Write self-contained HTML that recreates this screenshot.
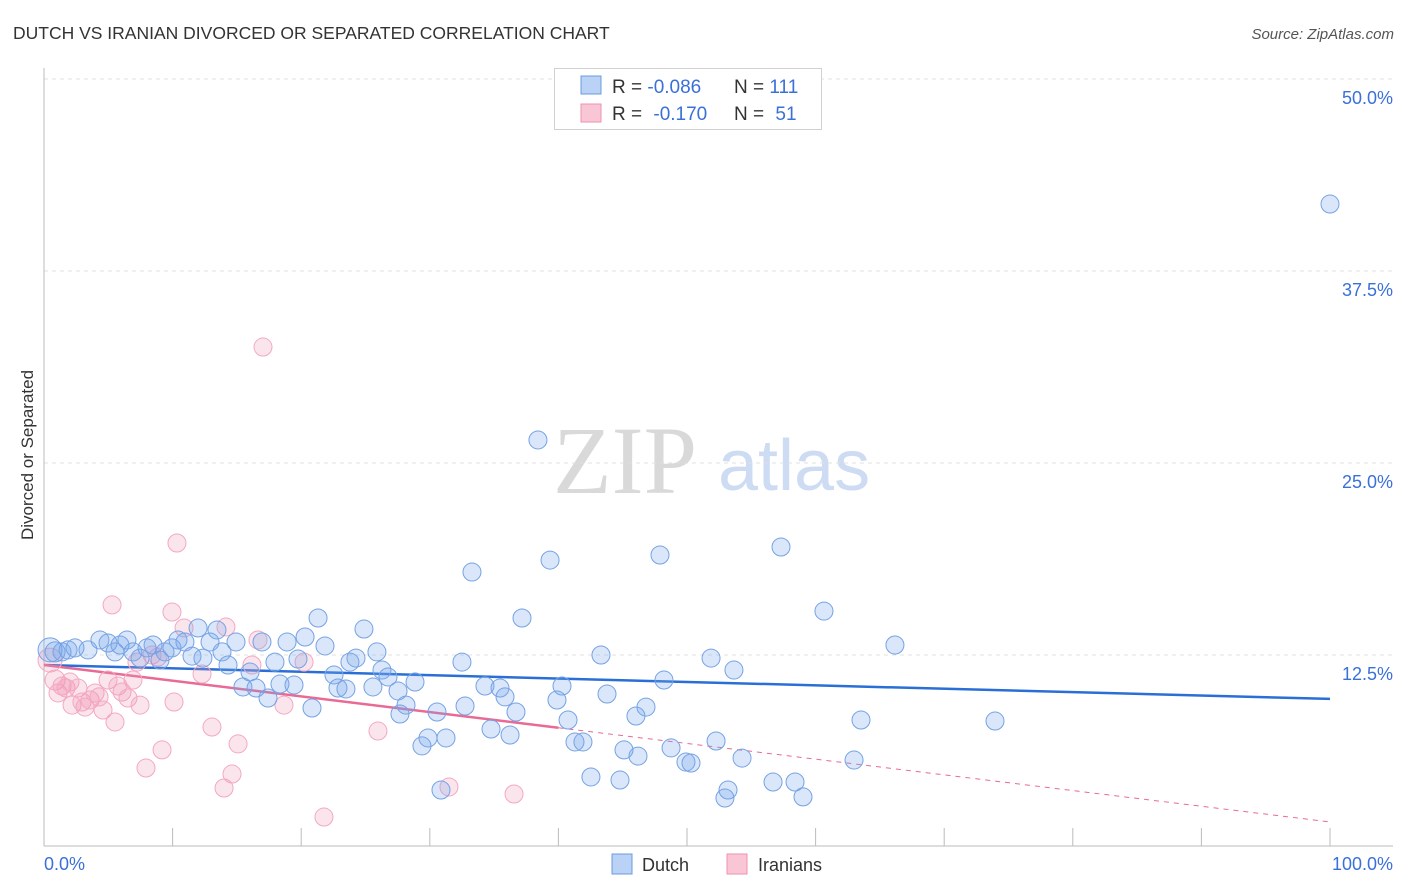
<!DOCTYPE html>
<html><head><meta charset="utf-8"><style>
body{margin:0;background:#fff;font-family:"Liberation Sans",sans-serif}
svg{display:block}
</style></head><body>
<svg id="chart" width="1406" height="892" viewBox="0 0 1406 892" xmlns="http://www.w3.org/2000/svg" font-family="Liberation Sans, sans-serif">
<text x="13" y="39" font-size="17.5" fill="#333">DUTCH VS IRANIAN DIVORCED OR SEPARATED CORRELATION CHART</text>
<text x="1394" y="39" font-size="15" fill="#555" font-style="italic" text-anchor="end">Source: ZipAtlas.com</text>
<g>
<text x="553" y="493" font-size="96" font-family="Liberation Serif, serif" fill="#d9d9d9">ZIP</text>
<text x="718" y="490" font-size="72" fill="#cddcf3">atlas</text>
</g>
<g id="grid"></g>
<g id="axes"></g>
<text transform="translate(33,455) rotate(-90)" font-size="17" fill="#333" text-anchor="middle">Divorced or Separated</text>
<g id="trends"></g>
<g id="pts"></g>
<g>
<rect x="554.5" y="68.5" width="267" height="61" fill="#fff" stroke="#d0d0d0"/>
<rect x="581" y="76" width="20" height="18" fill="#b9d2f5" stroke="#6a9be0"/>
<rect x="581" y="104" width="20" height="18" fill="#f9c6d6" stroke="#ee90b0"/>
<text x="612" y="93" font-size="19" fill="#333">R = <tspan fill="#3a70d8">-0.086</tspan></text>
<text x="734" y="93" font-size="19" fill="#333">N = <tspan fill="#3a70d8">111</tspan></text>
<text x="612" y="120" font-size="19" fill="#333">R = <tspan fill="#3a70d8" dx="6">-0.170</tspan></text>
<text x="734" y="120" font-size="19" fill="#333">N = <tspan fill="#3a70d8" dx="6">51</tspan></text>
</g>
<g>
<rect x="612" y="854" width="20" height="20" fill="#b9d2f5" stroke="#6a9be0"/>
<text x="642" y="871" font-size="18" fill="#333">Dutch</text>
<rect x="727" y="854" width="20" height="20" fill="#f9c6d6" stroke="#ee90b0"/>
<text x="758" y="871" font-size="18" fill="#333">Iranians</text>
</g>
</svg>
<script>
const dutchX=[0.47,0.86,1.40,1.87,2.41,3.42,4.35,4.98,5.52,5.91,6.45,6.92,7.47,8.01,8.48,9.02,9.41,9.95,10.42,10.96,11.51,11.98,12.36,12.91,13.45,13.84,14.31,14.93,15.47,16.02,16.49,16.95,17.42,17.96,18.35,18.90,19.44,19.75,20.30,20.84,21.31,21.85,22.55,22.86,23.48,23.79,24.26,24.88,25.58,25.89,26.28,26.75,27.53,27.68,28.15,28.85,29.39,29.86,30.56,30.87,31.26,32.50,32.74,33.28,34.29,34.76,35.46,35.85,36.24,36.70,37.17,38.41,39.35,39.89,40.28,40.75,41.29,41.91,42.53,43.31,43.78,44.79,45.10,46.03,46.19,46.81,47.90,48.21,48.76,49.92,50.31,51.87,52.26,52.95,53.19,53.65,54.28,56.69,57.31,58.40,59.02,60.65,62.99,63.53,66.17,73.95,100.0];
const dutchY=[12.83,12.70,12.70,12.83,12.96,12.83,13.48,13.28,12.70,13.15,13.48,12.70,12.30,12.96,13.15,12.17,12.70,12.96,13.48,13.35,12.43,14.26,12.30,13.35,14.13,12.70,11.85,13.35,10.42,11.39,10.35,13.35,9.70,12.04,10.61,13.35,10.55,12.24,13.67,9.05,14.91,13.09,11.20,10.35,10.29,12.04,12.30,14.19,10.42,12.70,11.52,11.07,10.16,8.66,9.24,10.74,6.58,7.10,8.79,3.71,7.10,12.04,9.18,17.90,10.48,7.68,10.35,9.77,7.29,8.79,14.91,26.50,18.68,9.57,10.48,8.27,6.84,6.84,4.56,12.50,9.96,4.36,6.32,8.53,5.92,9.11,19.01,10.87,6.45,5.53,5.47,12.30,6.90,3.19,3.71,11.52,5.79,4.23,19.53,4.23,3.26,15.36,5.66,8.27,13.15,8.20,41.86];
const iranX=[0.47,0.86,1.09,1.40,1.71,2.02,2.18,2.64,2.95,3.19,3.58,3.97,4.28,4.59,4.98,5.29,5.52,5.75,6.07,6.53,6.92,7.23,7.47,7.93,8.40,8.86,9.18,9.95,10.11,10.34,10.89,12.29,13.06,14.00,14.15,14.62,15.09,16.17,16.64,17.03,18.66,20.22,21.77,25.97,31.49,36.55];
const iranY=[12.17,10.87,10.03,10.48,10.35,10.74,9.24,10.35,9.44,9.11,9.57,10.03,9.77,8.92,10.87,15.76,8.14,10.48,10.09,9.70,10.87,12.04,9.24,5.14,12.50,12.37,6.32,15.30,9.44,19.79,14.26,11.26,7.81,3.84,14.32,4.75,6.71,11.85,13.48,32.55,9.24,12.04,1.95,7.55,3.91,3.45];
const dutchTrend=[11.85,9.64];
const iranTrend=[11.85,1.63];
const iranSolidEnd=40;
const yTicks=[12.5,25.0,37.5,50.0];
const xTickVals=[0,10,20,30,40,50,60,70,80,90,100];

const NS="http://www.w3.org/2000/svg";
const X=v=>44+v*12.86;
const Y=v=>847-v*15.36;
function mk(tag,attrs,parent){const e=document.createElementNS(NS,tag);for(const k in attrs)e.setAttribute(k,attrs[k]);parent.appendChild(e);return e;}
const grid=document.getElementById('grid'),axes=document.getElementById('axes'),trends=document.getElementById('trends'),pts=document.getElementById('pts');
yTicks.forEach(t=>{
  const l=mk('line',{x1:44,x2:1393,y1:Y(t),y2:Y(t),stroke:'#e0e0e0','stroke-dasharray':'4,4'},grid);
  
  
  const tx=mk('text',{x:1393,y:Y(t)+25,'font-size':18,fill:'#3a70d8','text-anchor':'end'},grid);
  tx.textContent=t.toFixed(1)+'%';
  
  
});
const ya=mk('line',{x1:44,x2:44,y1:68,y2:846,stroke:'#bbb'},axes);


const xa=mk('line',{x1:44,x2:1393,y1:846,y2:846,stroke:'#bbb'},axes);


xTickVals.forEach(v=>{
  const t=mk('line',{x1:X(v),x2:X(v),y1:828,y2:846,stroke:'#bbb'},axes);
  
  
});
const xl0=mk('text',{x:44,y:870,'font-size':18,fill:'#3a70d8'},axes);
xl0.textContent='0.0%';


const xl1=mk('text',{x:1393,y:870,'font-size':18,fill:'#3a70d8','text-anchor':'end'},axes);
xl1.textContent='100.0%';



function dots(xs,ys,fill,stroke,name){
  xs.forEach((x,i)=>{
    const r=(i<2)?(i==0?12:10):9;
    const c=mk('circle',{cx:X(x),cy:Y(ys[i]),r:r,fill:fill,stroke:stroke,'stroke-width':1},pts);
    
    
  });
}
dots(iranX,iranY,'rgba(240,150,180,0.25)','#f4a8c2','iranian-point');
dots(dutchX,dutchY,'rgba(120,165,235,0.27)','#75a2e4','dutch-point');

const bt=mk('line',{x1:X(0),y1:Y(dutchTrend[0]),x2:X(100),y2:Y(dutchTrend[1]),stroke:'#2a6fd6','stroke-width':2.5},trends);


const iy=v=>iranTrend[0]+(iranTrend[1]-iranTrend[0])*v/100;
const pt=mk('line',{x1:X(0),y1:Y(iy(0)),x2:X(iranSolidEnd),y2:Y(iy(iranSolidEnd)),stroke:'#e86a95','stroke-width':2.5},trends);


const pd=mk('line',{x1:X(iranSolidEnd),y1:Y(iy(iranSolidEnd)),x2:X(100),y2:Y(iy(100)),stroke:'#e86a95','stroke-width':1,'stroke-dasharray':'5,5'},trends);


</script>
</body></html>
